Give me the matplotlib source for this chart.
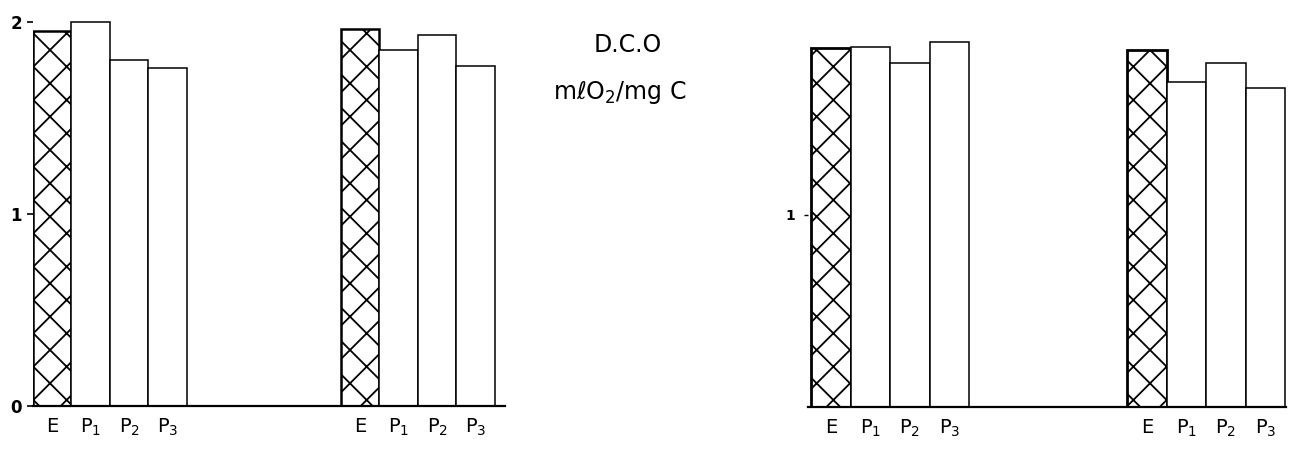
import matplotlib.pyplot as plt
import numpy as np

# 数据 (D.C.O, mlO2/mg C)
labels = ['E', r'$\mathrm{P}_1$', r'$\mathrm{P}_2$', r'$\mathrm{P}_3$']
left_first = [1.95, 2.00, 1.80, 1.76]
left_second = [1.96, 1.85, 1.93, 1.77]
right_first = [1.87, 1.875, 1.79, 1.90]
right_second = [1.86, 1.69, 1.79, 1.66]
group_gap = 8

plt.rcParams['hatch.linewidth'] = 1.3

fig = plt.figure(figsize=(12.9, 4.55), dpi=100)
W, H = 1290, 455


def px_axes(x0, x1, y_top, y_bottom):
    return fig.add_axes([x0 / W, 1 - y_bottom / H, (x1 - x0) / W, (y_bottom - y_top) / H])


def draw_panel(ax, first, second, hatch, edge_lw):
    pos1 = np.arange(len(labels))
    pos2 = pos1 + group_gap
    for pos, vals in [(pos1, first), (pos2, second)]:
        colors = ['white'] * len(vals)
        bars = ax.bar(pos, vals, width=1.0, color=colors, edgecolor='black', linewidth=1.1)
        bars[0].set_hatch(hatch)
        bars[0].set_linewidth(edge_lw)
    ax.set_xticks(np.concatenate([pos1, pos2]))
    ax.set_xticklabels(labels * 2, fontsize=14)
    ax.tick_params(axis='x', length=0, pad=8)
    for s in ['top', 'right', 'left']:
        ax.spines[s].set_visible(False)
    ax.spines['bottom'].set_linewidth(1.6)
    ax.set_ylim(0, 2.05)


# 左图
ax1 = px_axes(33, 505, 12, 406)
draw_panel(ax1, left_first, left_second, 'x', 1.8)
ax1.set_xlim(-0.5, 11.76)
ax1.set_yticks([0, 1, 2])
ax1.set_yticklabels(['0', '1', '2'], fontsize=12, fontweight='bold')
ax1.tick_params(axis='y', length=4, width=1.2, pad=4)

# 右图
ax2 = px_axes(808, 1286, 13, 407)
draw_panel(ax2, right_first, right_second, 'x', 2.0)
ax2.set_xlim(-0.58, 11.52)
ax2.set_yticks([1])
ax2.set_yticklabels(['1'], fontsize=10, fontweight='bold')
ax2.tick_params(axis='y', length=3, width=1.0, pad=6)

# 标题
fig.text(628 / W, 1 - 45 / H, 'D.C.O', ha='center', va='center', fontsize=17)
fig.text(620 / W, 1 - 93 / H, 'mℓO$_2$/mg C', ha='center', va='center', fontsize=17)

plt.savefig('out.png', dpi=100)
